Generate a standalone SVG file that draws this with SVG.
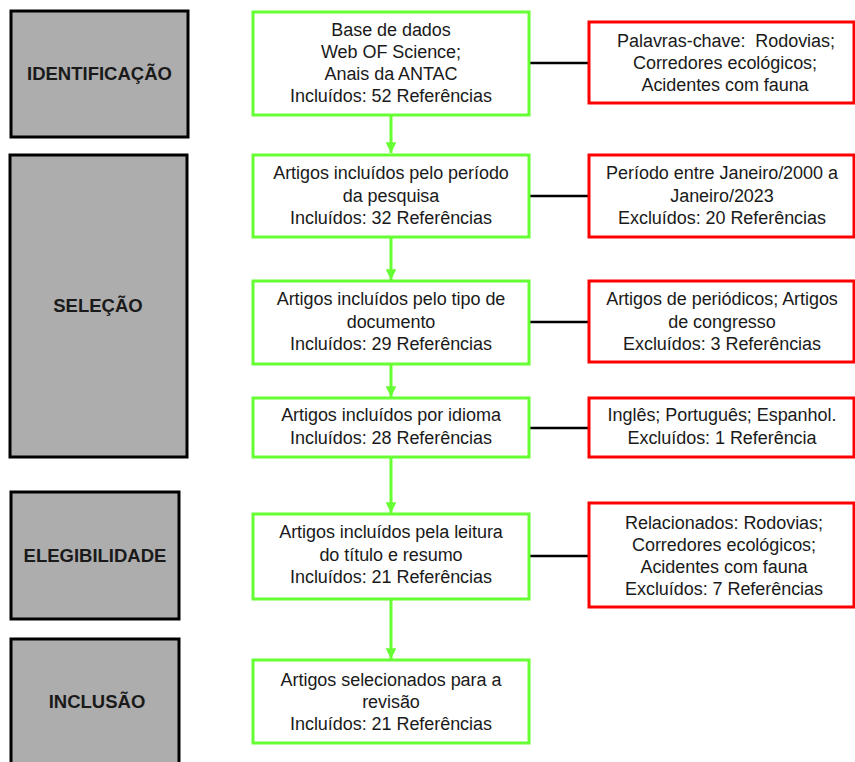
<svg xmlns="http://www.w3.org/2000/svg" width="855" height="762" viewBox="0 0 855 762">
<style>
.stage{fill:#ADADAD;stroke:#000;stroke-width:3}
.inc{fill:#fff;stroke:#66FF33;stroke-width:3}
.exc{fill:#fff;stroke:#FF0000;stroke-width:3}
.lbl{font-family:"Liberation Sans",Arial,sans-serif;font-weight:bold;font-size:18.5px;fill:#1a1a1a;text-anchor:middle}
.t{font-family:"Liberation Sans",Arial,sans-serif;font-size:18px;fill:#1a1a1a;text-anchor:middle;letter-spacing:-0.05px}
.g{stroke:#66FF33;stroke-width:3;fill:none}
.k{stroke:#000;stroke-width:2.5;fill:none}
</style>
<defs>
<marker id="ah" viewBox="0 0 10 10" refX="10" refY="5" markerWidth="3.6" markerHeight="3.6" orient="auto" markerUnits="strokeWidth">
<path d="M0,0 L10,5 L0,10 z" fill="#66FF33"/>
</marker>
</defs>
<g id="stage-identificacao"><rect class="stage" x="11" y="11" width="177" height="126"/><text class="lbl" x="99.5" y="80">IDENTIFICAÇÃO</text></g>
<g id="stage-selecao"><rect class="stage" x="10" y="155" width="177" height="302"/><text class="lbl" x="98" y="312">SELEÇÃO</text></g>
<g id="stage-elegibilidade"><rect class="stage" x="11" y="492" width="168" height="127"/><text class="lbl" x="95" y="562">ELEGIBILIDADE</text></g>
<g id="stage-inclusao"><rect class="stage" x="11" y="639" width="168" height="130"/><text class="lbl" x="97" y="708">INCLUSÃO</text></g>

<g id="connectors">
<line class="g" x1="391" y1="115" x2="391" y2="153" marker-end="url(#ah)"/>
<line class="g" x1="391" y1="237" x2="391" y2="280" marker-end="url(#ah)"/>
<line class="g" x1="391" y1="364" x2="391" y2="397" marker-end="url(#ah)"/>
<line class="g" x1="391" y1="457" x2="391" y2="513" marker-end="url(#ah)"/>
<line class="g" x1="391" y1="599" x2="391" y2="659" marker-end="url(#ah)"/>
<line class="k" x1="529" y1="63" x2="589" y2="63"/>
<line class="k" x1="529" y1="196" x2="589" y2="196"/>
<line class="k" x1="529" y1="322" x2="589" y2="322"/>
<line class="k" x1="529" y1="428" x2="589" y2="428"/>
<line class="k" x1="529" y1="556" x2="589" y2="556"/>
</g>

<g id="inc1"><rect class="inc" x="253" y="12" width="276" height="103"/>
<text class="t" x="391" y="36">Base de dados</text><text class="t" x="391" y="58">Web OF Science;</text><text class="t" x="391" y="80">Anais da ANTAC</text><text class="t" x="391" y="102">Incluídos: 52 Referências</text></g>
<g id="inc2"><rect class="inc" x="253" y="155" width="276" height="82"/>
<text class="t" x="391" y="179">Artigos incluídos pelo período</text><text class="t" x="391" y="202">da pesquisa</text><text class="t" x="391" y="224">Incluídos: 32 Referências</text></g>
<g id="inc3"><rect class="inc" x="253" y="281" width="276" height="83"/>
<text class="t" x="391" y="305">Artigos incluídos pelo tipo de</text><text class="t" x="391" y="328">documento</text><text class="t" x="391" y="350">Incluídos: 29 Referências</text></g>
<g id="inc4"><rect class="inc" x="253" y="398" width="276" height="59"/>
<text class="t" x="391" y="421">Artigos incluídos por idioma</text><text class="t" x="391" y="444">Incluídos: 28 Referências</text></g>
<g id="inc5"><rect class="inc" x="253" y="514" width="276" height="85"/>
<text class="t" x="391" y="538">Artigos incluídos pela leitura</text><text class="t" x="391" y="561">do título e resumo</text><text class="t" x="391" y="583">Incluídos: 21 Referências</text></g>
<g id="inc6"><rect class="inc" x="253" y="660" width="276" height="83"/>
<text class="t" x="391" y="686">Artigos selecionados para a</text><text class="t" x="391" y="708">revisão</text><text class="t" x="391" y="730">Incluídos: 21 Referências</text></g>

<g id="exc1"><rect class="exc" x="589" y="22" width="265" height="81"/>
<text class="t" x="726" y="47">Palavras-chave:&#160; Rodovias;</text><text class="t" x="725" y="69">Corredores ecológicos;</text><text class="t" x="725" y="91">Acidentes com fauna</text></g>
<g id="exc2"><rect class="exc" x="589" y="155" width="265" height="82"/>
<text class="t" x="722" y="179">Período entre Janeiro/2000 a</text><text class="t" x="722" y="202">Janeiro/2023</text><text class="t" x="722" y="224">Excluídos: 20 Referências</text></g>
<g id="exc3"><rect class="exc" x="589" y="281" width="265" height="81"/>
<text class="t" x="722" y="305">Artigos de periódicos; Artigos</text><text class="t" x="722" y="328">de congresso</text><text class="t" x="722" y="350">Excluídos: 3 Referências</text></g>
<g id="exc4"><rect class="exc" x="589" y="398" width="265" height="59"/>
<text class="t" x="722" y="421">Inglês; Português; Espanhol.</text><text class="t" x="722" y="444">Excluídos: 1 Referência</text></g>
<g id="exc5"><rect class="exc" x="589" y="503" width="265" height="104"/>
<text class="t" x="724" y="529">Relacionados: Rodovias;</text><text class="t" x="724" y="551">Corredores ecológicos;</text><text class="t" x="724" y="573">Acidentes com fauna</text><text class="t" x="724" y="595">Excluídos: 7 Referências</text></g>
</svg>
